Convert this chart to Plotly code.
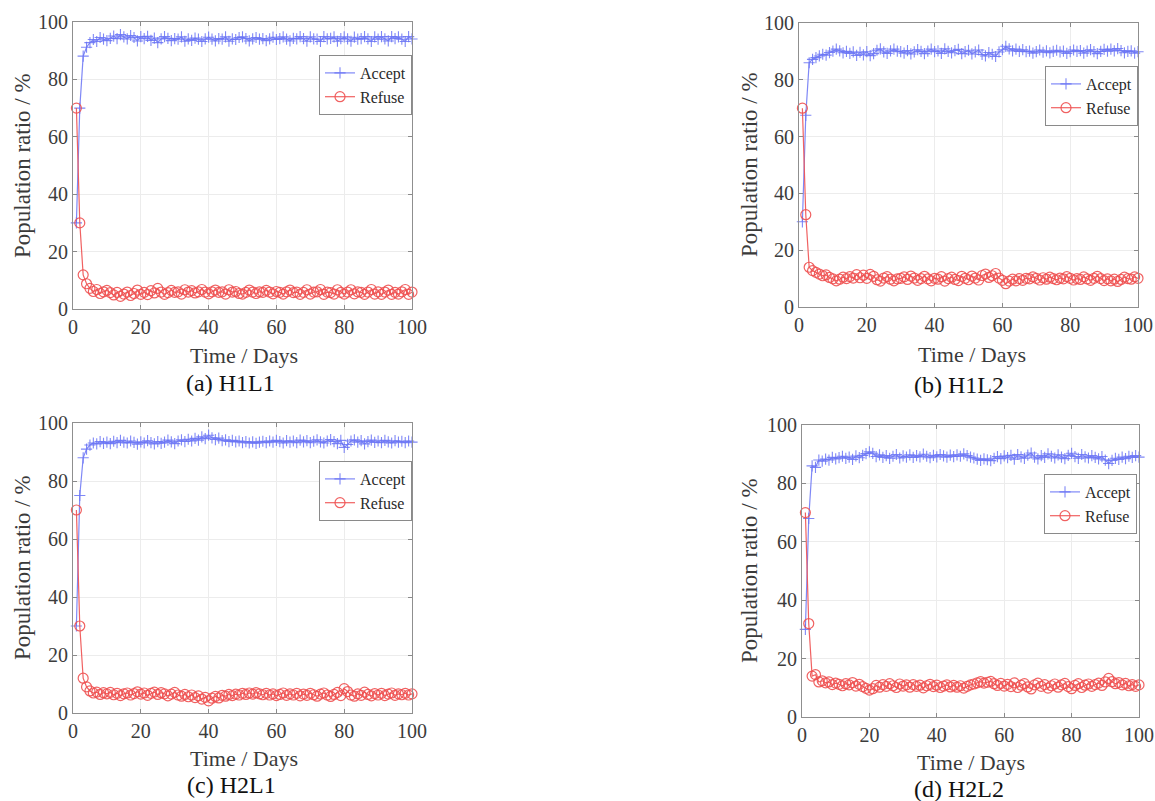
import plotly.graph_objects as go

W, H = 1155, 801

# ---------------- data ----------------
accept_h1l1 = [30.0, 70.0, 88.1, 91.2, 92.8, 93.9, 93.2, 94.6, 94.0, 93.5,
               94.3, 95.1, 94.2, 95.6, 94.8, 94.1, 95.3, 94.6, 93.4, 94.9,
               94.2, 95.0, 93.6, 94.4, 92.8, 94.1, 94.9, 94.3, 93.5, 94.2,
               94.0, 94.8, 93.3, 94.1, 93.6, 94.4, 94.0, 93.2, 94.1, 94.7,
               94.0, 93.4, 94.2, 94.0, 94.8, 93.3, 94.1, 93.9, 94.6, 94.8,
               94.2, 93.4, 94.1, 94.6, 94.0, 94.2, 93.5, 94.1, 94.7, 93.9,
               94.2, 94.8, 94.0, 93.4, 94.3, 94.1, 94.9, 94.2, 93.3, 94.8,
               94.1, 94.0, 93.2, 94.9, 94.1, 94.3, 94.8, 93.3, 94.2, 94.8,
               94.1, 93.3, 94.7, 94.0, 94.2, 94.9, 94.1, 93.2, 94.8, 94.0,
               94.9, 94.1, 93.4, 94.9, 94.2, 94.8, 94.0, 93.2, 94.9, 94.1, 94.6]
refuse_h1l1 = [70.0, 30.0, 11.9, 8.8, 7.2, 6.1, 6.8, 5.4, 6.0, 6.5,
               5.7, 4.9, 5.8, 4.4, 5.2, 5.9, 4.7, 5.4, 6.6, 5.1,
               5.8, 5.0, 6.4, 5.6, 7.2, 5.9, 5.1, 5.7, 6.5, 5.8,
               6.0, 5.2, 6.7, 5.9, 6.4, 5.6, 6.0, 6.8, 5.9, 5.3,
               6.0, 6.6, 5.8, 6.0, 5.2, 6.7, 5.9, 6.1, 5.4, 5.2,
               5.8, 6.6, 5.9, 5.4, 6.0, 5.8, 6.5, 5.9, 5.3, 6.1,
               5.8, 5.2, 6.0, 6.6, 5.7, 5.9, 5.1, 5.8, 6.7, 5.2,
               5.9, 6.0, 6.8, 5.1, 5.9, 5.7, 5.2, 6.7, 5.8, 5.2,
               5.9, 6.7, 5.3, 6.0, 5.8, 5.1, 5.9, 6.8, 5.2, 6.0,
               5.1, 5.9, 6.6, 5.1, 5.8, 5.2, 6.0, 6.8, 5.1, 5.9, 5.4]

accept_h1l2 = [30.0, 67.5, 86.0, 87.2, 87.8, 88.4, 89.0, 88.7, 89.6, 90.1,
               90.8, 90.2, 89.5, 90.0, 89.3, 89.8, 88.6, 89.7, 88.8, 89.9,
               88.5, 89.2, 90.4, 90.9, 89.8, 89.3, 90.2, 90.8, 90.1, 89.9,
               89.4, 90.3, 89.1, 89.8, 90.6, 90.0, 89.2, 90.1, 90.8, 89.9,
               90.2, 89.3, 90.9, 90.0, 89.5, 90.3, 90.7, 89.2, 89.9, 90.4,
               89.1, 89.8, 90.5, 88.9, 88.4, 89.6, 89.0, 88.2, 89.8, 90.6,
               91.8, 90.9, 90.2, 90.8, 90.0, 90.6, 89.9, 90.1, 89.4, 89.9,
               90.5, 89.7, 90.2, 89.5, 90.0, 90.4, 89.8, 90.1, 89.3, 89.9,
               90.5, 90.0, 90.3, 89.4, 90.1, 90.6, 89.9, 89.2, 90.0, 90.7,
               90.1, 90.8, 90.2, 91.0, 90.3, 89.5, 90.0, 90.2, 89.4, 89.9, 89.7]
refuse_h1l2 = [70.0, 32.5, 14.0, 12.8, 12.2, 11.6, 11.0, 11.3, 10.4, 9.9,
               9.2, 9.8, 10.5, 10.0, 10.7, 10.2, 11.4, 10.3, 11.2, 10.1,
               11.5, 10.8, 9.6, 9.1, 10.2, 10.7, 9.8, 9.2, 9.9, 10.1,
               10.6, 9.7, 10.9, 10.2, 9.4, 10.0, 10.8, 9.9, 9.2, 10.1,
               9.8, 10.7, 9.1, 10.0, 10.5, 9.7, 9.3, 10.8, 10.1, 9.6,
               10.9, 10.2, 9.5, 11.1, 11.6, 10.4, 11.0, 11.8, 10.2, 9.4,
               8.2, 9.1, 9.8, 9.2, 10.0, 9.4, 10.1, 9.9, 10.6, 10.1,
               9.5, 10.3, 9.8, 10.5, 10.0, 9.6, 10.2, 9.9, 10.7, 10.1,
               9.5, 10.0, 9.7, 10.6, 9.9, 9.4, 10.1, 10.8, 10.0, 9.3,
               9.9, 9.2, 9.8, 9.0, 9.7, 10.5, 10.0, 9.8, 10.6, 10.1, 10.3]

accept_h2l1 = [30.0, 75.0, 88.0, 91.0, 92.4, 93.1, 92.8, 93.6, 93.0, 93.4,
               92.9, 93.7, 93.2, 94.0, 93.4, 93.1, 93.8, 93.3, 92.7, 93.5,
               93.1, 93.9, 93.2, 92.8, 93.6, 93.0, 93.4, 94.1, 93.5, 92.9,
               93.8, 94.2, 93.6, 94.4, 93.8, 94.7, 94.1, 95.2, 94.6, 95.8,
               94.9, 94.3, 94.8, 93.9, 94.2, 93.6, 94.0, 93.5, 93.8, 93.2,
               93.6, 93.1, 93.5, 93.0, 93.4, 93.7, 93.2, 93.8, 93.4, 94.0,
               93.6, 93.1, 93.9, 93.4, 93.8, 93.2, 94.1, 93.5, 93.9, 93.2,
               93.7, 94.2, 93.5, 93.1, 93.8, 94.3, 93.6, 92.9, 94.0, 91.6,
               92.6, 93.8, 94.2, 93.4, 93.9, 92.8, 93.6, 94.1, 93.3, 93.8,
               93.2, 94.0, 93.5, 93.1, 93.9, 93.4, 93.7, 93.2, 93.8, 93.4, 93.6]
refuse_h2l1 = [70.0, 30.0, 12.0, 9.0, 7.6, 6.9, 7.2, 6.4, 7.0, 6.6,
               7.1, 6.3, 6.8, 6.0, 6.6, 6.9, 6.2, 6.7, 7.3, 6.5,
               6.9, 6.1, 6.8, 7.2, 6.4, 7.0, 6.6, 5.9, 6.5, 7.1,
               6.2, 5.8, 6.4, 5.6, 6.2, 5.3, 5.9, 4.8, 5.4, 4.2,
               5.1, 5.7, 5.2, 6.1, 5.8, 6.4, 6.0, 6.5, 6.2, 6.8,
               6.4, 6.9, 6.5, 7.0, 6.6, 6.3, 6.8, 6.2, 6.6, 6.0,
               6.4, 6.9, 6.1, 6.6, 6.2, 6.8, 5.9, 6.5, 6.1, 6.8,
               6.3, 5.8, 6.5, 6.9, 6.2, 5.7, 6.4, 7.1, 6.0, 8.4,
               7.4, 6.2, 5.8, 6.6, 6.1, 7.2, 6.4, 5.9, 6.7, 6.2,
               6.8, 6.0, 6.5, 6.9, 6.1, 6.6, 6.3, 6.8, 6.2, 6.6, 6.4]

accept_h2l2 = [30.0, 68.0, 86.0, 85.5, 88.0, 87.6, 88.3, 88.0, 88.9, 88.4,
               88.8, 89.3, 88.6, 89.0, 88.2, 89.4, 88.8, 89.6, 90.2, 90.8,
               90.3, 89.2, 89.8, 88.9, 89.5, 88.6, 89.3, 89.9, 88.7, 89.4,
               89.0, 89.8, 88.9, 89.5, 89.1, 90.0, 89.3, 88.8, 89.6, 89.1,
               89.9, 89.4, 89.0, 89.7, 89.2, 89.8, 89.3, 90.1, 89.5, 89.0,
               88.7, 88.3, 87.9, 88.4, 88.1, 87.8, 88.6, 89.2, 88.5, 89.4,
               88.8, 89.6, 88.3, 89.9, 89.1, 88.6, 89.7, 90.4, 89.0, 88.4,
               89.5, 88.9, 90.1, 89.3, 88.7, 89.8, 89.0, 88.5, 89.6, 90.3,
               89.2, 88.6, 89.9, 89.1, 88.7, 89.5, 88.9, 88.4, 89.2, 88.0,
               86.8, 87.9, 88.6, 88.2, 89.0, 88.5, 89.3, 88.9, 89.5, 89.0, 89.2]
refuse_h2l2 = [70.0, 32.0, 14.0, 14.5, 12.0, 12.4, 11.7, 12.0, 11.1, 11.6,
               11.2, 10.7, 11.4, 11.0, 11.8, 10.6, 11.2, 10.4, 9.8, 9.2,
               9.7, 10.8, 10.2, 11.1, 10.5, 11.4, 10.7, 10.1, 11.3, 10.6,
               11.0, 10.2, 11.1, 10.5, 10.9, 10.0, 10.7, 11.2, 10.4, 10.9,
               10.1, 10.6, 11.0, 10.3, 10.8, 10.2, 10.7, 9.9, 10.5, 11.0,
               11.3, 11.7, 12.1, 11.6, 11.9, 12.2, 11.4, 10.8, 11.5, 10.6,
               11.2, 10.4, 11.7, 10.1, 10.9, 11.4, 10.3, 9.6, 11.0, 11.6,
               10.5, 11.1, 9.9, 10.7, 11.3, 10.2, 11.0, 11.5, 10.4, 9.7,
               10.8, 11.4, 10.1, 10.9, 11.3, 10.5, 11.1, 11.6, 10.8, 12.0,
               13.2, 12.1, 11.4, 11.8, 11.0, 11.5, 10.7, 11.1, 10.5, 11.0, 10.8]

captions = ["(a) H1L1", "(b) H1L2", "(c) H2L1", "(d) H2L2"]
accept_series = [accept_h1l1, accept_h1l2, accept_h2l1, accept_h2l2]
refuse_series = [refuse_h1l1, refuse_h1l2, refuse_h2l1, refuse_h2l2]
tick_values = [0, 20, 40, 60, 80, 100]
x_title = "Time / Days"
y_title = "Population ratio / %"
series_names = ["Accept", "Refuse"]

# ---------------- layout geometry (pixels) ----------------
boxes = [(73, 412, 22, 309), (799, 1138, 23, 307),
         (73, 412, 423, 713), (802, 1139, 425, 717)]
legend_pos = [(412, 55), (1138, 66), (412, 461), (1137, 474)]
xtitle_pos = [(244, 355), (972, 354), (244, 758), (971, 762)]
ytitle_pos = [(22, 166), (749, 165), (22, 568), (749, 571)]
caption_pos = [(230, 383), (959, 385), (231, 785), (959, 789)]

FONT = "Liberation Serif, Times New Roman, serif"
BLUE = "rgba(105,115,245,0.85)"
RED = "rgba(238,80,80,0.9)"

def px(x):
    return x / W

def py(y):
    return 1 - y / H

fig = go.Figure()
layout = dict(width=W, height=H, margin=dict(l=0, r=0, t=0, b=0, pad=0, autoexpand=False),
              autosize=False, paper_bgcolor="white", plot_bgcolor="white",
              showlegend=True, annotations=[])

for i in range(4):
    n = i + 1
    xa = "x" if n == 1 else f"x{n}"
    ya = "y" if n == 1 else f"y{n}"
    lg = "legend" if n == 1 else f"legend{n}"
    acc = accept_series[i]
    ref = refuse_series[i]
    fig.add_trace(go.Scatter(
        x=list(range(1, len(acc) + 1)), y=acc, name=series_names[0],
        mode="lines+markers", xaxis=xa, yaxis=ya, legend=lg, cliponaxis=False,
        line=dict(color=BLUE, width=1.2),
        marker=dict(symbol="cross-thin-open", size=8, color=BLUE,
                    line=dict(color=BLUE, width=1.1))))
    fig.add_trace(go.Scatter(
        x=list(range(1, len(ref) + 1)), y=ref, name=series_names[1],
        mode="lines+markers", xaxis=xa, yaxis=ya, legend=lg, cliponaxis=False,
        line=dict(color=RED, width=1.2),
        marker=dict(symbol="circle-open", size=10, color=RED,
                    line=dict(color=RED, width=1.2))))

    l, r, t, b = boxes[i]
    axis_common = dict(range=[0, 100], tickvals=tick_values, ticks="inside",
                       ticklen=4, tickcolor="#8a8a8a", showline=True,
                       linecolor="#8f8f8f", linewidth=1, mirror="ticks",
                       showgrid=True, gridcolor="#ececec", gridwidth=1,
                       zeroline=False, fixedrange=True, automargin=False,
                       tickfont=dict(family=FONT, size=20, color="#3c3c3c"))
    layout["xaxis" if n == 1 else f"xaxis{n}"] = dict(
        domain=[px(l), px(r)], anchor=ya, **axis_common)
    layout["yaxis" if n == 1 else f"yaxis{n}"] = dict(
        domain=[py(b), py(t)], anchor=xa, **axis_common)

    lx, ly = legend_pos[i]
    layout[lg] = dict(x=px(lx), y=py(ly), xanchor="right", yanchor="top",
                      bgcolor="white", bordercolor="#8a8a8a", borderwidth=1,
                      font=dict(family=FONT, size=16, color="#2a2a2a"),
                      tracegroupgap=0, itemwidth=30)

    tx, ty = xtitle_pos[i]
    layout["annotations"].append(dict(
        text=x_title, x=px(tx), y=py(ty), xref="paper", yref="paper",
        xanchor="center", yanchor="middle", showarrow=False,
        font=dict(family=FONT, size=22, color="#3a3a3a")))
    yx, yy = ytitle_pos[i]
    layout["annotations"].append(dict(
        text=y_title, x=px(yx), y=py(yy), xref="paper", yref="paper",
        xanchor="center", yanchor="middle", showarrow=False, textangle=-90,
        font=dict(family=FONT, size=23, color="#3a3a3a")))
    cx, cy = caption_pos[i]
    layout["annotations"].append(dict(
        text=captions[i], x=px(cx), y=py(cy), xref="paper", yref="paper",
        xanchor="center", yanchor="middle", showarrow=False,
        font=dict(family=FONT, size=24, color="#111111")))

fig.update_layout(**layout)
fig.write_html("out.html", config={"displayModeBar": False},
               post_script="document.body.style.margin='0';document.body.style.overflow='hidden';")
